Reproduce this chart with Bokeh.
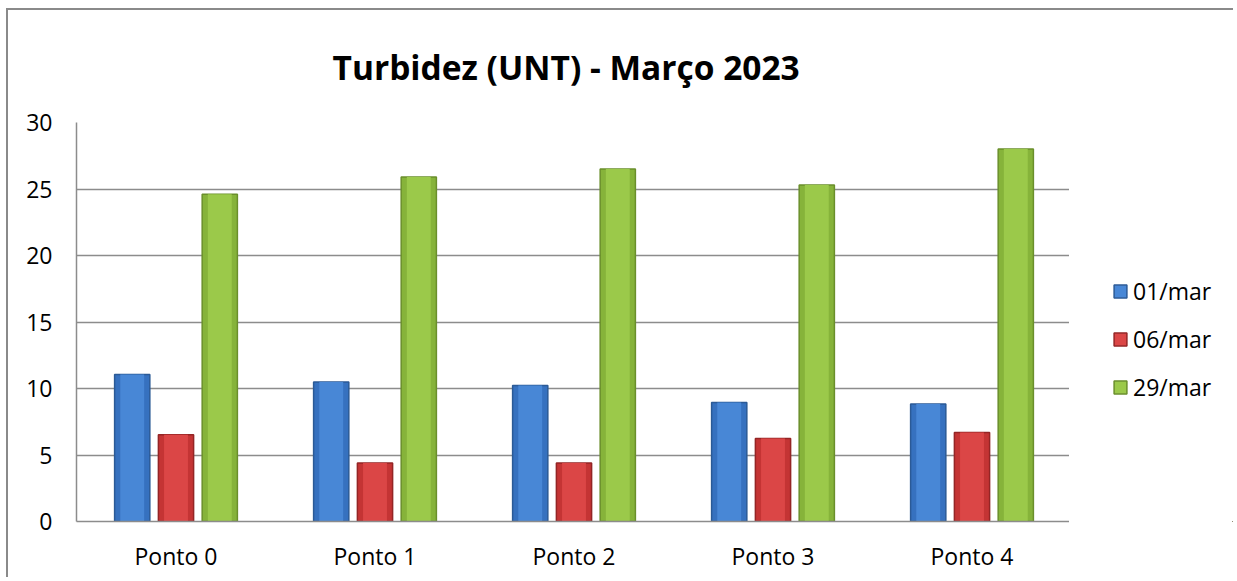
from bokeh.plotting import figure
from bokeh.layouts import row
from bokeh.models import ColumnDataSource, FactorRange, FixedTicker, Legend, LegendItem, Range1d
from bokeh.transform import dodge
from bokeh.embed import file_html
from bokeh.resources import INLINE

categories = ["Ponto 0", "Ponto 1", "Ponto 2", "Ponto 3", "Ponto 4"]
series_names = ["01/mar", "06/mar", "29/mar"]
mar01 = [11.05, 10.48, 10.22, 8.95, 8.83]
mar06 = [6.52, 4.39, 4.39, 6.24, 6.69]
mar29 = [24.6, 25.9, 26.5, 25.3, 28.0]
y_ticks = [0, 5, 10, 15, 20, 25, 30]

outer = ["#3671bf", "#c43434", "#86b33a"]
inner = ["#4887d6", "#db4646", "#9bc94a"]
edges = ["#2b5a96", "#942525", "#6a8f2b"]

src = ColumnDataSource(dict(cat=categories, s0=mar01, s1=mar06, s2=mar29))

FONT = "Open Sans"
p = figure(x_range=FactorRange(*categories, range_padding=0), y_range=(0, 30),
           width=1063, height=569, output_backend="svg", toolbar_location=None,
           min_border_left=68, min_border_right=0, min_border_top=112, min_border_bottom=58)
p.styles = {"border-left": "2px solid #8a8a8a", "border-top": "2px solid #8a8a8a",
            "margin-left": "6px", "margin-top": "8px"}

p.title.text = "Turbidez (UNT) - Março 2023"
p.title.text_font = FONT
p.title.text_font_size = "33.5px"
p.title.text_font_style = "bold"
p.title.text_color = "#000000"
p.title.align = "left"
p.title.offset = 256
p.title.vertical_align = "top"
p.title.standoff = 62

offsets = [-0.22, 0.0, 0.22]
renderers = []
for i, key in enumerate(["s0", "s1", "s2"]):
    r = p.vbar(x=dodge("cat", offsets[i], range=p.x_range), top=key, bottom=0, width=0.177,
               source=src, fill_color=outer[i], line_color=edges[i], line_width=1.5)
    p.vbar(x=dodge("cat", offsets[i], range=p.x_range), top=key, bottom=0, width=0.12,
           source=src, fill_color=inner[i], line_color=None)
    renderers.append(r)

p.outline_line_color = None
p.xgrid.grid_line_color = None
p.ygrid.grid_line_color = "#8c8c8c"
p.ygrid.grid_line_width = 1.5
p.yaxis.ticker = FixedTicker(ticks=y_ticks)

for ax in (p.xaxis[0], p.yaxis[0]):
    ax.axis_line_color = "#8c8c8c"
    ax.axis_line_width = 1.5
    ax.major_tick_line_color = None
    ax.minor_tick_line_color = None
    ax.major_tick_out = 0
    ax.major_tick_in = 0
    ax.major_label_text_font = FONT
    ax.major_label_text_font_size = "23px"
    ax.major_label_text_color = "#000000"
p.yaxis.major_label_standoff = 24
p.xaxis.major_label_standoff = 18

# legend panel (separate canvas to the right of the plot area); its bars lie far outside its view
lg = figure(x_range=FactorRange(*categories), y_range=Range1d(1000, 2000),
            width=164, height=569, output_backend="svg", toolbar_location=None,
            x_axis_location=None, y_axis_location=None,
            min_border_left=0, min_border_right=0, min_border_top=0, min_border_bottom=0)
lg.styles = {"border-top": "2px solid #8a8a8a", "margin-top": "8px"}
lg.outline_line_color = None
lg.grid.grid_line_color = None
legend_glyphs = []
for i, key in enumerate(["s0", "s1", "s2"]):
    legend_glyphs.append(lg.vbar(x=dodge("cat", 50, range=lg.x_range), top=key, bottom=0, width=0.5,
                                 source=src, fill_color=inner[i], line_color=edges[i], line_width=1.5))
legend = Legend(items=[LegendItem(label=series_names[i], renderers=[legend_glyphs[i]]) for i in range(3)],
                location=(43, 117), border_line_color=None, background_fill_alpha=0,
                glyph_width=16, glyph_height=16, label_text_font=FONT, label_text_font_size="23px",
                label_text_color="#000000",
                label_standoff=5, spacing=14, padding=0, margin=0, label_height=34)
lg.add_layout(legend, "center")

layout = row(p, lg, spacing=0)
open("out.html", "w").write(file_html(layout, INLINE))
